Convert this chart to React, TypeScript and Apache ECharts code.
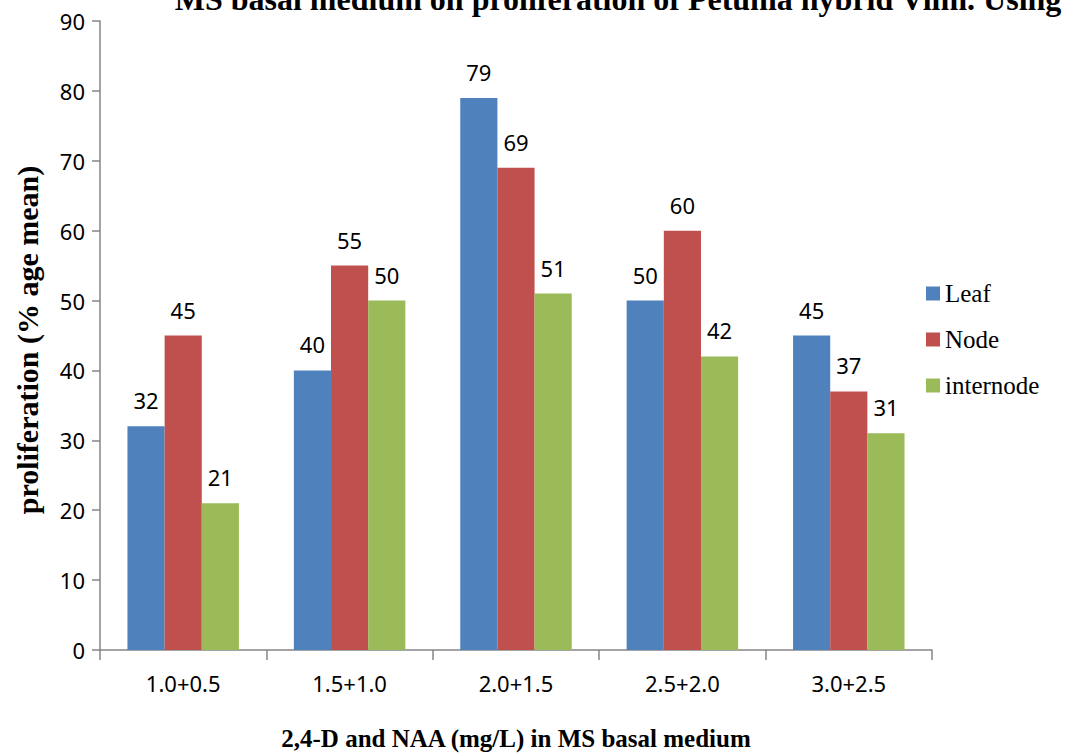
import React, { useEffect, useRef } from "react";
import * as echarts from "echarts";

const categories = ["1.0+0.5", "1.5+1.0", "2.0+1.5", "2.5+2.0", "3.0+2.5"];
const leaf = [32, 40, 79, 50, 45];
const node = [45, 55, 69, 60, 37];
const internode = [21, 50, 51, 42, 31];
const seriesNames = ["Leaf", "Node", "internode"];
const seriesColors = ["#4F81BD", "#C0504D", "#9BBB59"];

const titleText = "MS basal medium on proliferation of Petunia hybrid Vilm. Using";
const xTitle = "2,4-D and NAA (mg/L) in MS basal medium";
const yTitle = "proliferation (% age mean)";

const sans = "'Noto Sans', 'Open Sans', sans-serif";
const serif = "'Liberation Serif', 'Times New Roman', serif";

export default function App() {
  const ref = useRef<HTMLDivElement>(null);

  useEffect(() => {
    if (!ref.current) return;
    const chart = echarts.init(ref.current, null, { renderer: "svg" });
    const values = [leaf, node, internode];
    chart.setOption({
      animation: false,
      backgroundColor: "#ffffff",
      grid: { left: 100, right: 136, top: 21, bottom: 103 },
      legend: {
        orient: "vertical",
        left: 921,
        top: 276,
        itemWidth: 14,
        itemHeight: 14,
        itemGap: 21,
        icon: "rect",
        data: seriesNames,
        textStyle: { fontFamily: serif, fontSize: 25, color: "#000" },
      },
      xAxis: {
        type: "category",
        data: categories,
        axisLine: { lineStyle: { color: "#868686", width: 1.5 } },
        axisTick: { show: true, length: 10, lineStyle: { color: "#868686", width: 1.5 } },
        axisLabel: { fontFamily: sans, fontSize: 22, color: "#000", margin: 22 },
      },
      yAxis: {
        type: "value",
        min: 0,
        max: 90,
        interval: 10,
        splitLine: { show: false },
        axisLine: { show: true, lineStyle: { color: "#868686", width: 1.5 } },
        axisTick: { show: true, length: 8, lineStyle: { color: "#868686", width: 1.5 } },
        axisLabel: { fontFamily: sans, fontSize: 22, color: "#000", margin: 15 },
      },
      series: seriesNames.map((name, i) => ({
        name,
        type: "bar",
        data: values[i],
        barGap: "0%",
        barCategoryGap: "33%",
        itemStyle: { color: seriesColors[i] },
        label: {
          show: true,
          position: "top",
          distance: 15,
          fontFamily: sans,
          fontSize: 22,
          color: "#000",
        },
      })),
      graphic: [
        {
          type: "text",
          x: 618,
          y: -17,
          style: {
            text: titleText,
            fontFamily: serif,
            fontWeight: "bold",
            fontSize: 32,
            fill: "#000",
            textAlign: "center",
          },
        },
        {
          type: "text",
          x: 516,
          y: 738,
          style: {
            text: xTitle,
            fontFamily: serif,
            fontWeight: "bold",
            fontSize: 25,
            fill: "#000",
            textAlign: "center",
            textVerticalAlign: "middle",
          },
        },
        {
          type: "text",
          x: 27,
          y: 340,
          rotation: Math.PI / 2,
          style: {
            text: yTitle,
            fontFamily: serif,
            fontWeight: "bold",
            fontSize: 30,
            fill: "#000",
            textAlign: "center",
            textVerticalAlign: "middle",
          },
        },
      ],
    });
    return () => chart.dispose();
  }, []);

  return (
    <div
      ref={ref}
      style={{ position: "absolute", left: 0, top: 0, width: 1068, height: 753 }}
    />
  );
}
